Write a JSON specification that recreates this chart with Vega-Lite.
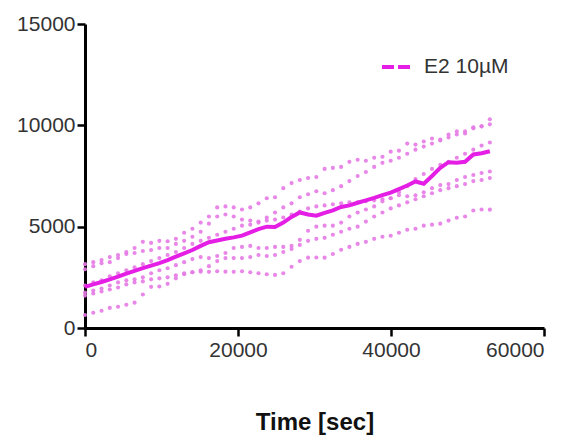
{
"$schema": "https://vega.github.io/schema/vega-lite/v6.json",
"width": 459,
"height": 304,
"autosize": {"type": "none"},
"padding": {"left": 85, "top": 24, "right": 35, "bottom": 115},
"background": "white",
"config": {
  "view": {"stroke": null},
  "font": "Liberation Sans",
  "axis": {"domainColor": "#000", "domainWidth": 3, "tickColor": "#000", "tickWidth": 2.5, "tickSize": 8, "labelFontSize": 21, "labelColor": "#333", "labelFont": "Liberation Sans", "grid": false}
},
"datasets": {
"traces": [
{"t":0,"s":"A","v":3150},{"t":1080,"s":"A","v":3250},{"t":2160,"s":"A","v":3350},{"t":3240,"s":"A","v":3500},{"t":4320,"s":"A","v":3600},{"t":5400,"s":"A","v":3750},{"t":6480,"s":"A","v":3950},{"t":7560,"s":"A","v":4250},{"t":8640,"s":"A","v":4200},{"t":9720,"s":"A","v":4300},
{"t":10800,"s":"A","v":4280},{"t":11880,"s":"A","v":4400},{"t":12960,"s":"A","v":4700},{"t":14040,"s":"A","v":4900},{"t":15120,"s":"A","v":5200},{"t":16200,"s":"A","v":5500},{"t":17280,"s":"A","v":5950},{"t":18360,"s":"A","v":6000},{"t":19440,"s":"A","v":5950},{"t":20520,"s":"A","v":5850},
{"t":21600,"s":"A","v":5950},{"t":22680,"s":"A","v":6150},{"t":23760,"s":"A","v":6400},{"t":24840,"s":"A","v":6450},{"t":25920,"s":"A","v":6900},{"t":27000,"s":"A","v":7150},{"t":28080,"s":"A","v":7300},{"t":29160,"s":"A","v":7400},{"t":30240,"s":"A","v":7450},{"t":31320,"s":"A","v":7850},
{"t":32400,"s":"A","v":7900},{"t":33480,"s":"A","v":7950},{"t":34560,"s":"A","v":8200},{"t":35640,"s":"A","v":8300},{"t":36720,"s":"A","v":8250},{"t":37800,"s":"A","v":8400},{"t":38880,"s":"A","v":8450},{"t":39960,"s":"A","v":8700},{"t":41040,"s":"A","v":8750},{"t":42120,"s":"A","v":9100},
{"t":43200,"s":"A","v":9050},{"t":44280,"s":"A","v":9200},{"t":45360,"s":"A","v":9350},{"t":46440,"s":"A","v":9300},{"t":47520,"s":"A","v":9550},{"t":48600,"s":"A","v":9700},{"t":49680,"s":"A","v":9600},{"t":50760,"s":"A","v":9900},{"t":51840,"s":"A","v":9950},{"t":52920,"s":"A","v":10300},
{"t":0,"s":"B","v":2900},{"t":1080,"s":"B","v":3050},{"t":2160,"s":"B","v":3200},{"t":3240,"s":"B","v":3250},{"t":4320,"s":"B","v":3450},{"t":5400,"s":"B","v":3650},{"t":6480,"s":"B","v":3700},{"t":7560,"s":"B","v":3800},{"t":8640,"s":"B","v":3850},{"t":9720,"s":"B","v":3950},
{"t":10800,"s":"B","v":3950},{"t":11880,"s":"B","v":4150},{"t":12960,"s":"B","v":4300},{"t":14040,"s":"B","v":4500},{"t":15120,"s":"B","v":4750},{"t":16200,"s":"B","v":5150},{"t":17280,"s":"B","v":5500},{"t":18360,"s":"B","v":5600},{"t":19440,"s":"B","v":5500},{"t":20520,"s":"B","v":5350},
{"t":21600,"s":"B","v":5300},{"t":22680,"s":"B","v":5250},{"t":23760,"s":"B","v":5450},{"t":24840,"s":"B","v":5700},{"t":25920,"s":"B","v":5950},{"t":27000,"s":"B","v":6150},{"t":28080,"s":"B","v":6450},{"t":29160,"s":"B","v":6600},{"t":30240,"s":"B","v":6750},{"t":31320,"s":"B","v":6650},
{"t":32400,"s":"B","v":6800},{"t":33480,"s":"B","v":7000},{"t":34560,"s":"B","v":7250},{"t":35640,"s":"B","v":7500},{"t":36720,"s":"B","v":7700},{"t":37800,"s":"B","v":7950},{"t":38880,"s":"B","v":8150},{"t":39960,"s":"B","v":8250},{"t":41040,"s":"B","v":8400},{"t":42120,"s":"B","v":8600},
{"t":43200,"s":"B","v":8800},{"t":44280,"s":"B","v":8950},{"t":45360,"s":"B","v":9100},{"t":46440,"s":"B","v":9250},{"t":47520,"s":"B","v":9400},{"t":48600,"s":"B","v":9550},{"t":49680,"s":"B","v":9700},{"t":50760,"s":"B","v":9850},{"t":51840,"s":"B","v":9950},{"t":52920,"s":"B","v":10050},
{"t":0,"s":"C","v":2100},{"t":1080,"s":"C","v":2250},{"t":2160,"s":"C","v":2350},{"t":3240,"s":"C","v":2550},{"t":4320,"s":"C","v":2700},{"t":5400,"s":"C","v":2850},{"t":6480,"s":"C","v":3000},{"t":7560,"s":"C","v":3150},{"t":8640,"s":"C","v":3300},{"t":9720,"s":"C","v":3450},
{"t":10800,"s":"C","v":3600},{"t":11880,"s":"C","v":3750},{"t":12960,"s":"C","v":3950},{"t":14040,"s":"C","v":4150},{"t":15120,"s":"C","v":4300},{"t":16200,"s":"C","v":4450},{"t":17280,"s":"C","v":4600},{"t":18360,"s":"C","v":4750},{"t":19440,"s":"C","v":4900},{"t":20520,"s":"C","v":5050},
{"t":21600,"s":"C","v":5100},{"t":22680,"s":"C","v":5200},{"t":23760,"s":"C","v":5300},{"t":24840,"s":"C","v":5350},{"t":25920,"s":"C","v":5450},{"t":27000,"s":"C","v":5600},{"t":28080,"s":"C","v":5750},{"t":29160,"s":"C","v":5900},{"t":30240,"s":"C","v":6000},{"t":31320,"s":"C","v":6050},
{"t":32400,"s":"C","v":6100},{"t":33480,"s":"C","v":6150},{"t":34560,"s":"C","v":6200},{"t":35640,"s":"C","v":6200},{"t":36720,"s":"C","v":6250},{"t":37800,"s":"C","v":6300},{"t":38880,"s":"C","v":6350},{"t":39960,"s":"C","v":6400},{"t":41040,"s":"C","v":6700},{"t":42120,"s":"C","v":7000},
{"t":43200,"s":"C","v":7350},{"t":44280,"s":"C","v":7600},{"t":45360,"s":"C","v":7850},{"t":46440,"s":"C","v":8050},{"t":47520,"s":"C","v":8200},{"t":48600,"s":"C","v":8400},{"t":49680,"s":"C","v":8600},{"t":50760,"s":"C","v":8800},{"t":51840,"s":"C","v":9000},{"t":52920,"s":"C","v":9150},
{"t":0,"s":"D","v":1750},{"t":1080,"s":"D","v":1850},{"t":2160,"s":"D","v":1950},{"t":3240,"s":"D","v":2100},{"t":4320,"s":"D","v":2250},{"t":5400,"s":"D","v":2350},{"t":6480,"s":"D","v":2400},{"t":7560,"s":"D","v":2500},{"t":8640,"s":"D","v":2700},{"t":9720,"s":"D","v":2850},
{"t":10800,"s":"D","v":2950},{"t":11880,"s":"D","v":3100},{"t":12960,"s":"D","v":3250},{"t":14040,"s":"D","v":3400},{"t":15120,"s":"D","v":3500},{"t":16200,"s":"D","v":3450},{"t":17280,"s":"D","v":3550},{"t":18360,"s":"D","v":3700},{"t":19440,"s":"D","v":3950},{"t":20520,"s":"D","v":4000},
{"t":21600,"s":"D","v":4050},{"t":22680,"s":"D","v":3950},{"t":23760,"s":"D","v":3950},{"t":24840,"s":"D","v":4000},{"t":25920,"s":"D","v":4000},{"t":27000,"s":"D","v":4050},{"t":28080,"s":"D","v":4350},{"t":29160,"s":"D","v":4800},{"t":30240,"s":"D","v":5000},{"t":31320,"s":"D","v":5050},
{"t":32400,"s":"D","v":5050},{"t":33480,"s":"D","v":5200},{"t":34560,"s":"D","v":5500},{"t":35640,"s":"D","v":5700},{"t":36720,"s":"D","v":5850},{"t":37800,"s":"D","v":6000},{"t":38880,"s":"D","v":6250},{"t":39960,"s":"D","v":6400},{"t":41040,"s":"D","v":6550},{"t":42120,"s":"D","v":6500},
{"t":43200,"s":"D","v":6550},{"t":44280,"s":"D","v":6700},{"t":45360,"s":"D","v":6900},{"t":46440,"s":"D","v":7050},{"t":47520,"s":"D","v":7100},{"t":48600,"s":"D","v":7300},{"t":49680,"s":"D","v":7450},{"t":50760,"s":"D","v":7550},{"t":51840,"s":"D","v":7650},{"t":52920,"s":"D","v":7720},
{"t":0,"s":"E","v":1600},{"t":1080,"s":"E","v":1700},{"t":2160,"s":"E","v":1800},{"t":3240,"s":"E","v":1900},{"t":4320,"s":"E","v":2000},{"t":5400,"s":"E","v":2150},{"t":6480,"s":"E","v":2250},{"t":7560,"s":"E","v":2300},{"t":8640,"s":"E","v":2400},{"t":9720,"s":"E","v":2450},
{"t":10800,"s":"E","v":2500},{"t":11880,"s":"E","v":2600},{"t":12960,"s":"E","v":2700},{"t":14040,"s":"E","v":2750},{"t":15120,"s":"E","v":2850},{"t":16200,"s":"E","v":3050},{"t":17280,"s":"E","v":3300},{"t":18360,"s":"E","v":3450},{"t":19440,"s":"E","v":3450},{"t":20520,"s":"E","v":3450},
{"t":21600,"s":"E","v":3500},{"t":22680,"s":"E","v":3600},{"t":23760,"s":"E","v":3550},{"t":24840,"s":"E","v":3600},{"t":25920,"s":"E","v":3750},{"t":27000,"s":"E","v":3900},{"t":28080,"s":"E","v":4100},{"t":29160,"s":"E","v":4300},{"t":30240,"s":"E","v":4400},{"t":31320,"s":"E","v":4450},
{"t":32400,"s":"E","v":4600},{"t":33480,"s":"E","v":4750},{"t":34560,"s":"E","v":4900},{"t":35640,"s":"E","v":5000},{"t":36720,"s":"E","v":5250},{"t":37800,"s":"E","v":5500},{"t":38880,"s":"E","v":5700},{"t":39960,"s":"E","v":5900},{"t":41040,"s":"E","v":6050},{"t":42120,"s":"E","v":6200},
{"t":43200,"s":"E","v":6350},{"t":44280,"s":"E","v":6500},{"t":45360,"s":"E","v":6650},{"t":46440,"s":"E","v":6800},{"t":47520,"s":"E","v":6900},{"t":48600,"s":"E","v":7000},{"t":49680,"s":"E","v":7100},{"t":50760,"s":"E","v":7250},{"t":51840,"s":"E","v":7300},{"t":52920,"s":"E","v":7400},
{"t":0,"s":"F","v":640},{"t":1080,"s":"F","v":750},{"t":2160,"s":"F","v":850},{"t":3240,"s":"F","v":990},{"t":4320,"s":"F","v":1050},{"t":5400,"s":"F","v":1150},{"t":6480,"s":"F","v":1250},{"t":7560,"s":"F","v":1650},{"t":8640,"s":"F","v":2030},{"t":9720,"s":"F","v":2050},
{"t":10800,"s":"F","v":2180},{"t":11880,"s":"F","v":2450},{"t":12960,"s":"F","v":2650},{"t":14040,"s":"F","v":2750},{"t":15120,"s":"F","v":2780},{"t":16200,"s":"F","v":2770},{"t":17280,"s":"F","v":2800},{"t":18360,"s":"F","v":2780},{"t":19440,"s":"F","v":2770},{"t":20520,"s":"F","v":2800},
{"t":21600,"s":"F","v":2750},{"t":22680,"s":"F","v":2700},{"t":23760,"s":"F","v":2650},{"t":24840,"s":"F","v":2620},{"t":25920,"s":"F","v":2700},{"t":27000,"s":"F","v":3020},{"t":28080,"s":"F","v":3300},{"t":29160,"s":"F","v":3470},{"t":30240,"s":"F","v":3480},{"t":31320,"s":"F","v":3470},
{"t":32400,"s":"F","v":3650},{"t":33480,"s":"F","v":3860},{"t":34560,"s":"F","v":4000},{"t":35640,"s":"F","v":4150},{"t":36720,"s":"F","v":4250},{"t":37800,"s":"F","v":4400},{"t":38880,"s":"F","v":4500},{"t":39960,"s":"F","v":4550},{"t":41040,"s":"F","v":4700},{"t":42120,"s":"F","v":4850},
{"t":43200,"s":"F","v":4900},{"t":44280,"s":"F","v":5050},{"t":45360,"s":"F","v":5100},{"t":46440,"s":"F","v":5150},{"t":47520,"s":"F","v":5300},{"t":48600,"s":"F","v":5440},{"t":49680,"s":"F","v":5500},{"t":50760,"s":"F","v":5800},{"t":51840,"s":"F","v":5850},{"t":52920,"s":"F","v":5840}
],
"mean": [
{"t":0,"v":2030,"g":"E2 10µM"},{"t":1080,"v":2150,"g":"E2 10µM"},{"t":2160,"v":2270,"g":"E2 10µM"},{"t":3240,"v":2400,"g":"E2 10µM"},{"t":4320,"v":2540,"g":"E2 10µM"},{"t":5400,"v":2680,"g":"E2 10µM"},{"t":6480,"v":2820,"g":"E2 10µM"},{"t":7560,"v":2950,"g":"E2 10µM"},{"t":8640,"v":3080,"g":"E2 10µM"},{"t":9720,"v":3200,"g":"E2 10µM"},
{"t":10800,"v":3350,"g":"E2 10µM"},{"t":11880,"v":3520,"g":"E2 10µM"},{"t":12960,"v":3680,"g":"E2 10µM"},{"t":14040,"v":3850,"g":"E2 10µM"},{"t":15120,"v":4050,"g":"E2 10µM"},{"t":16200,"v":4230,"g":"E2 10µM"},{"t":17280,"v":4320,"g":"E2 10µM"},{"t":18360,"v":4400,"g":"E2 10µM"},{"t":19440,"v":4470,"g":"E2 10µM"},{"t":20520,"v":4560,"g":"E2 10µM"},
{"t":21600,"v":4720,"g":"E2 10µM"},{"t":22680,"v":4880,"g":"E2 10µM"},{"t":23760,"v":5000,"g":"E2 10µM"},{"t":24840,"v":4980,"g":"E2 10µM"},{"t":25920,"v":5200,"g":"E2 10µM"},{"t":27000,"v":5480,"g":"E2 10µM"},{"t":28080,"v":5700,"g":"E2 10µM"},{"t":29160,"v":5600,"g":"E2 10µM"},{"t":30240,"v":5540,"g":"E2 10µM"},{"t":31320,"v":5680,"g":"E2 10µM"},
{"t":32400,"v":5800,"g":"E2 10µM"},{"t":33480,"v":5970,"g":"E2 10µM"},{"t":34560,"v":6050,"g":"E2 10µM"},{"t":35640,"v":6180,"g":"E2 10µM"},{"t":36720,"v":6300,"g":"E2 10µM"},{"t":37800,"v":6420,"g":"E2 10µM"},{"t":38880,"v":6560,"g":"E2 10µM"},{"t":39960,"v":6680,"g":"E2 10µM"},{"t":41040,"v":6850,"g":"E2 10µM"},{"t":42120,"v":7030,"g":"E2 10µM"},
{"t":43200,"v":7230,"g":"E2 10µM"},{"t":44280,"v":7120,"g":"E2 10µM"},{"t":45360,"v":7500,"g":"E2 10µM"},{"t":46440,"v":7900,"g":"E2 10µM"},{"t":47520,"v":8180,"g":"E2 10µM"},{"t":48600,"v":8150,"g":"E2 10µM"},{"t":49680,"v":8200,"g":"E2 10µM"},{"t":50760,"v":8560,"g":"E2 10µM"},{"t":51840,"v":8620,"g":"E2 10µM"},{"t":52920,"v":8720,"g":"E2 10µM"}
]
},
"layer": [
  {
    "data": {"name": "traces"},
    "mark": {"type": "point", "filled": true, "size": 17, "color": "#e57ae5", "opacity": 0.9},
    "encoding": {
      "x": {"field": "t", "type": "quantitative", "scale": {"domain": [0, 60000], "nice": false}, "axis": {"values": [0, 20000, 40000, 60000], "title": "Time [sec]", "titleFontSize": 24, "titleFontWeight": "bold", "titleColor": "#111", "titlePadding": 50, "labelPadding": 3, "format": "d"}},
      "y": {"field": "v", "type": "quantitative", "scale": {"domain": [0, 15000], "nice": false}, "axis": {"values": [0, 5000, 10000, 15000], "title": null, "labelPadding": 2, "format": "d"}}
    }
  },
  {
    "data": {"name": "mean"},
    "mark": {"type": "line", "strokeWidth": 4, "interpolate": "linear"},
    "encoding": {
      "x": {"field": "t", "type": "quantitative"},
      "y": {"field": "v", "type": "quantitative"},
      "color": {"field": "g", "type": "nominal", "scale": {"range": ["#e41ee4"]},
        "legend": {"title": null, "orient": "none", "legendX": 295, "legendY": 26, "symbolType": "stroke", "symbolSize": 900, "symbolStrokeWidth": 4, "symbolDash": [12, 4], "labelFontSize": 21, "labelColor": "#333", "labelOffset": 10, "padding": 0}}
    }
  }
]
}
